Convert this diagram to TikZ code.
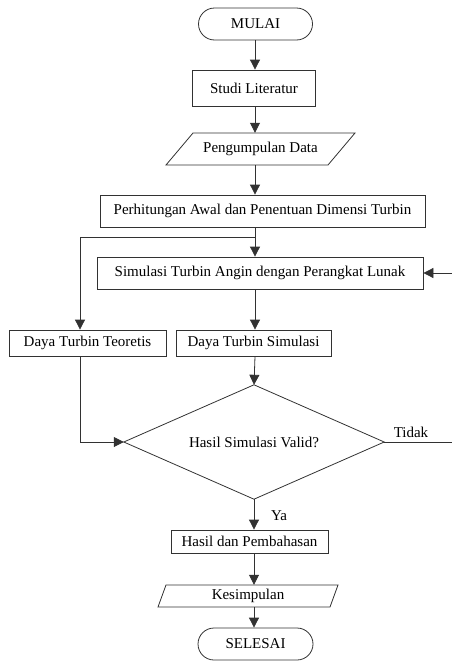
\documentclass[tikz,border=0pt]{standalone}
\usepackage{fontspec}
\setmainfont{Liberation Serif}
\usetikzlibrary{arrows.meta}
\definecolor{ln}{RGB}{50,50,50}
\begin{document}
\begin{tikzpicture}[x=1pt,y=-1pt,
  font=\fontsize{15}{17}\selectfont,
  box/.style={draw=ln, line width=0.8pt, inner sep=0pt, minimum width=#1},
  term/.style={draw=ln, line width=0.8pt, inner sep=0pt, rounded corners=16pt, minimum width=#1, minimum height=32pt},
  plain/.style={inner sep=0pt, minimum width=#1},
  arr/.style={draw=ln, line width=0.8pt, -{Triangle[length=10pt,width=10pt]}},
  ln/.style={draw=ln, line width=0.8pt}]
\useasboundingbox (0,0) rectangle (451,667);

\node[term=114pt] (mulai) at (255.5,24) {MULAI};
\node[box=123pt, minimum height=36pt] (studi) at (254,88) {Studi Literatur};
\node[plain=162pt, minimum height=32pt] (peng) at (260.5,149) {Pengumpulan Data};
\draw[ln] (193,133) -- (355,133) -- (328,165) -- (166,165) -- cycle;
\node[box=325pt, minimum height=32pt] (perh) at (262.5,211) {Perhitungan Awal dan Penentuan Dimensi Turbin};
\node[box=326pt, minimum height=32pt] (sim) at (260,273) {Simulasi Turbin Angin dengan Perangkat Lunak};
\node[box=157pt, minimum height=26pt] (dtt) at (87.5,343) {Daya Turbin Teoretis};
\node[box=155pt, minimum height=26pt] (dts) at (253.5,343) {Daya Turbin Simulasi};
\node[plain=260pt, minimum height=114pt] (dec) at (254,442) {Hasil Simulasi Valid?};
\draw[ln] (dec.north) -- (dec.east) -- (dec.south) -- (dec.west) -- cycle;
\node[box=157pt, minimum height=23pt] (hasil) at (249.5,541.5) {Hasil dan Pembahasan};
\node[plain=172pt, minimum height=22pt] (kes) at (248,596) {Kesimpulan};
\draw[ln] (166,585) -- (338,585) -- (330,607) -- (158,607) -- cycle;
\node[term=115pt] (selesai) at (255.5,644) {SELESAI};

\coordinate (ax) at (255,0);
\coordinate (br) at (255,237);
\coordinate (tl) at (80,237);
\coordinate (rt) at (470,442);
\coordinate (rtop) at (470,273);

\draw[arr] (ax |- mulai.south) -- (ax |- studi.north);
\draw[arr] (ax |- studi.south) -- (ax |- peng.north);
\draw[arr] (ax |- peng.south) -- (ax |- perh.north);
\draw[ln] (ax |- perh.south) -- (br);
\draw[arr] (br) -- (ax |- sim.north);
\draw[arr] (br) -- (tl) -- (tl |- dtt.north);
\draw[arr] (ax |- sim.south) -- (ax |- dts.north);
\draw[arr] (ax |- dts.south) -- (dec.north);
\draw[arr] (tl |- dtt.south) -- (tl |- dec.west) -- (dec.west);
\draw[ln] (dec.east) -- (rt) -- (rtop);
\draw[arr] (rtop) -- (sim.east);
\draw[arr] (dec.south) -- (dec.south |- hasil.north);
\draw[arr] (dec.south |- hasil.south) -- (dec.south |- kes.north);
\draw[arr] (dec.south |- kes.south) -- (dec.south |- selesai.north);

\node[inner sep=0pt] (ya) at (279,516) {Ya};
\node[inner sep=0pt] (tidak) at (411,432) {Tidak};
\end{tikzpicture}
\end{document}
